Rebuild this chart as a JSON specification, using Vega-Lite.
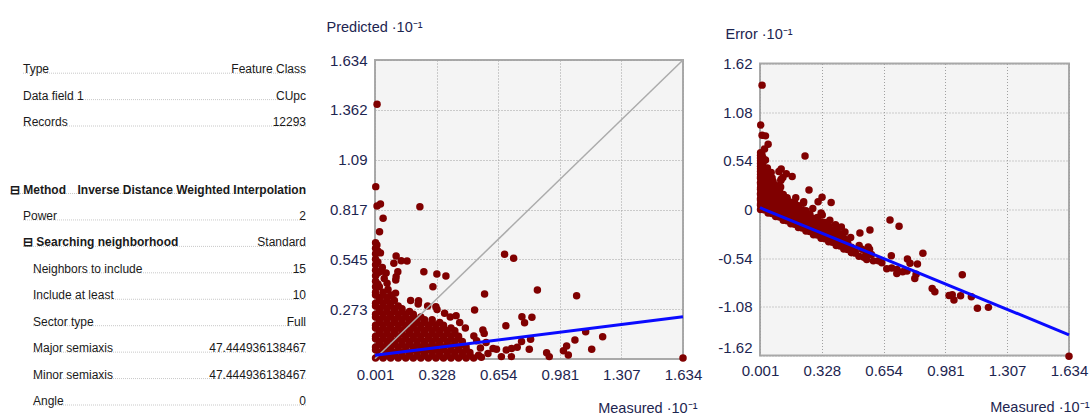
{
  "$schema": "https://vega.github.io/schema/vega-lite/v6.json",
  "padding": {"left": 9, "top": 18, "right": 0, "bottom": 0},
  "bounds": "flush",
  "center": true,
  "spacing": 77,
  "config": {
    "font": "Liberation Sans, Arial, sans-serif",
    "view": {"stroke": null},
    "axis": {
      "labelFontSize": 15, "labelColor": "#1d2550", "titleFontSize": 14.5, "titleFontWeight": "normal", "titleColor": "#1d2550",
      "ticks": false, "domain": false, "grid": true, "gridColor": "#a0a0a0", "gridDash": [1, 2], "gridWidth": 1,
      "labelPadding": 8, "labelFlush": false, "labelOverlap": false, "labelBound": false
    }
  },
  "datasets": {
    "info": [
      {"row": 0, "level": 1, "label": "Type", "value": "Feature Class", "lb": false, "vb": false},
      {"row": 1, "level": 1, "label": "Data field 1", "value": "CUpc", "lb": false, "vb": false},
      {"row": 2, "level": 1, "label": "Records", "value": "12293", "lb": false, "vb": false},
      {"row": 3, "level": 0, "label": "⊟ Method", "value": "Inverse Distance Weighted Interpolation", "lb": true, "vb": true},
      {"row": 4, "level": 1, "label": "Power", "value": "2", "lb": false, "vb": false},
      {"row": 5, "level": 1, "label": "⊟ Searching neighborhood", "value": "Standard", "lb": true, "vb": false},
      {"row": 6, "level": 2, "label": "Neighbors to include", "value": "15", "lb": false, "vb": false},
      {"row": 7, "level": 2, "label": "Include at least", "value": "10", "lb": false, "vb": false},
      {"row": 8, "level": 2, "label": "Sector type", "value": "Full", "lb": false, "vb": false},
      {"row": 9, "level": 2, "label": "Major semiaxis", "value": "47.444936138467", "lb": false, "vb": false},
      {"row": 10, "level": 2, "label": "Minor semiaxis", "value": "47.444936138467", "lb": false, "vb": false},
      {"row": 11, "level": 2, "label": "Angle", "value": "0", "lb": false, "vb": false}
    ],
    "diag": [{"m": 0.001, "p": 0.001}, {"m": 1.634, "p": 1.634}],
    "fit1": [{"m": 0.001, "p": 0.02}, {"m": 1.634, "p": 0.231}],
    "fit2": [{"m": 0.001, "e": 0.02}, {"m": 1.634, "e": -1.39}],
    "pts": [
      {"m":0.004,"p":0.005,"e":0.001},{"m":0.044,"p":0.005,"e":-0.039},{"m":0.084,"p":0.005,"e":-0.079},{"m":0.124,"p":0.005,"e":-0.119},{"m":0.164,"p":0.005,"e":-0.159},{"m":0.204,"p":0.005,"e":-0.199},{"m":0.244,"p":0.005,"e":-0.239},{"m":0.284,"p":0.005,"e":-0.279},{"m":0.324,"p":0.005,"e":-0.319},{"m":0.364,"p":0.005,"e":-0.359},{"m":0.404,"p":0.005,"e":-0.399},{"m":0.444,"p":0.005,"e":-0.439},{"m":0.484,"p":0.005,"e":-0.479},{"m":0.524,"p":0.005,"e":-0.519},
      {"m":0.024,"p":0.02,"e":-0.004},{"m":0.064,"p":0.02,"e":-0.044},{"m":0.104,"p":0.02,"e":-0.084},{"m":0.144,"p":0.02,"e":-0.124},{"m":0.184,"p":0.02,"e":-0.164},{"m":0.224,"p":0.02,"e":-0.204},{"m":0.264,"p":0.02,"e":-0.244},{"m":0.304,"p":0.02,"e":-0.284},{"m":0.344,"p":0.02,"e":-0.324},{"m":0.384,"p":0.02,"e":-0.364},{"m":0.424,"p":0.02,"e":-0.404},{"m":0.464,"p":0.02,"e":-0.444},{"m":0.504,"p":0.02,"e":-0.484},
      {"m":0.024,"p":0.035,"e":0.011},{"m":0.064,"p":0.035,"e":-0.029},{"m":0.104,"p":0.035,"e":-0.069},{"m":0.144,"p":0.035,"e":-0.109},{"m":0.184,"p":0.035,"e":-0.149},{"m":0.224,"p":0.035,"e":-0.189},{"m":0.264,"p":0.035,"e":-0.229},{"m":0.304,"p":0.035,"e":-0.269},{"m":0.344,"p":0.035,"e":-0.309},{"m":0.384,"p":0.035,"e":-0.349},{"m":0.424,"p":0.035,"e":-0.389},{"m":0.464,"p":0.035,"e":-0.429},{"m":0.504,"p":0.035,"e":-0.469},
      {"m":0.004,"p":0.05,"e":0.046},{"m":0.044,"p":0.05,"e":0.006},{"m":0.084,"p":0.05,"e":-0.034},{"m":0.124,"p":0.05,"e":-0.074},{"m":0.164,"p":0.05,"e":-0.114},{"m":0.204,"p":0.05,"e":-0.154},{"m":0.244,"p":0.05,"e":-0.194},{"m":0.284,"p":0.05,"e":-0.234},{"m":0.324,"p":0.05,"e":-0.274},{"m":0.364,"p":0.05,"e":-0.314},{"m":0.404,"p":0.05,"e":-0.354},{"m":0.444,"p":0.05,"e":-0.394},{"m":0.484,"p":0.05,"e":-0.434},
      {"m":0.004,"p":0.065,"e":0.061},{"m":0.044,"p":0.065,"e":0.021},{"m":0.084,"p":0.065,"e":-0.019},{"m":0.124,"p":0.065,"e":-0.059},{"m":0.164,"p":0.065,"e":-0.099},{"m":0.204,"p":0.065,"e":-0.139},{"m":0.244,"p":0.065,"e":-0.179},{"m":0.284,"p":0.065,"e":-0.219},{"m":0.324,"p":0.065,"e":-0.259},{"m":0.364,"p":0.065,"e":-0.299},{"m":0.404,"p":0.065,"e":-0.339},{"m":0.444,"p":0.065,"e":-0.379},{"m":0.484,"p":0.065,"e":-0.419},
      {"m":0.024,"p":0.08,"e":0.056},{"m":0.064,"p":0.08,"e":0.016},{"m":0.104,"p":0.08,"e":-0.024},{"m":0.144,"p":0.08,"e":-0.064},{"m":0.184,"p":0.08,"e":-0.104},{"m":0.224,"p":0.08,"e":-0.144},{"m":0.264,"p":0.08,"e":-0.184},{"m":0.304,"p":0.08,"e":-0.224},{"m":0.344,"p":0.08,"e":-0.264},{"m":0.384,"p":0.08,"e":-0.304},{"m":0.424,"p":0.08,"e":-0.344},{"m":0.464,"p":0.08,"e":-0.384},
      {"m":0.024,"p":0.095,"e":0.071},{"m":0.064,"p":0.095,"e":0.031},{"m":0.104,"p":0.095,"e":-0.009},{"m":0.144,"p":0.095,"e":-0.049},{"m":0.184,"p":0.095,"e":-0.089},{"m":0.224,"p":0.095,"e":-0.129},{"m":0.264,"p":0.095,"e":-0.169},{"m":0.304,"p":0.095,"e":-0.209},{"m":0.344,"p":0.095,"e":-0.249},{"m":0.384,"p":0.095,"e":-0.289},{"m":0.424,"p":0.095,"e":-0.329},{"m":0.464,"p":0.095,"e":-0.369},
      {"m":0.004,"p":0.11,"e":0.106},{"m":0.044,"p":0.11,"e":0.066},{"m":0.084,"p":0.11,"e":0.026},{"m":0.124,"p":0.11,"e":-0.014},{"m":0.164,"p":0.11,"e":-0.054},{"m":0.204,"p":0.11,"e":-0.094},{"m":0.244,"p":0.11,"e":-0.134},{"m":0.284,"p":0.11,"e":-0.174},{"m":0.324,"p":0.11,"e":-0.214},{"m":0.364,"p":0.11,"e":-0.254},{"m":0.404,"p":0.11,"e":-0.294},{"m":0.444,"p":0.11,"e":-0.334},
      {"m":0.004,"p":0.125,"e":0.121},{"m":0.044,"p":0.125,"e":0.081},{"m":0.084,"p":0.125,"e":0.041},{"m":0.124,"p":0.125,"e":0.001},{"m":0.164,"p":0.125,"e":-0.039},{"m":0.204,"p":0.125,"e":-0.079},{"m":0.244,"p":0.125,"e":-0.119},{"m":0.284,"p":0.125,"e":-0.159},{"m":0.324,"p":0.125,"e":-0.199},{"m":0.364,"p":0.125,"e":-0.239},{"m":0.404,"p":0.125,"e":-0.279},{"m":0.444,"p":0.125,"e":-0.319},
      {"m":0.024,"p":0.14,"e":0.116},{"m":0.064,"p":0.14,"e":0.076},{"m":0.104,"p":0.14,"e":0.036},{"m":0.144,"p":0.14,"e":-0.004},{"m":0.184,"p":0.14,"e":-0.044},{"m":0.224,"p":0.14,"e":-0.084},{"m":0.264,"p":0.14,"e":-0.124},{"m":0.304,"p":0.14,"e":-0.164},{"m":0.344,"p":0.14,"e":-0.204},{"m":0.384,"p":0.14,"e":-0.244},{"m":0.424,"p":0.14,"e":-0.284},
      {"m":0.024,"p":0.155,"e":0.131},{"m":0.064,"p":0.155,"e":0.091},{"m":0.104,"p":0.155,"e":0.051},{"m":0.144,"p":0.155,"e":0.011},{"m":0.184,"p":0.155,"e":-0.029},{"m":0.224,"p":0.155,"e":-0.069},{"m":0.264,"p":0.155,"e":-0.109},{"m":0.304,"p":0.155,"e":-0.149},{"m":0.344,"p":0.155,"e":-0.189},{"m":0.384,"p":0.155,"e":-0.229},{"m":0.424,"p":0.155,"e":-0.269},
      {"m":0.004,"p":0.17,"e":0.166},{"m":0.044,"p":0.17,"e":0.126},{"m":0.084,"p":0.17,"e":0.086},{"m":0.124,"p":0.17,"e":0.046},{"m":0.164,"p":0.17,"e":0.006},{"m":0.204,"p":0.17,"e":-0.034},{"m":0.244,"p":0.17,"e":-0.074},{"m":0.284,"p":0.17,"e":-0.114},{"m":0.324,"p":0.17,"e":-0.154},{"m":0.364,"p":0.17,"e":-0.194},{"m":0.404,"p":0.17,"e":-0.234},
      {"m":0.004,"p":0.185,"e":0.181},{"m":0.044,"p":0.185,"e":0.141},{"m":0.084,"p":0.185,"e":0.101},{"m":0.124,"p":0.185,"e":0.061},{"m":0.164,"p":0.185,"e":0.021},{"m":0.204,"p":0.185,"e":-0.019},{"m":0.244,"p":0.185,"e":-0.059},{"m":0.284,"p":0.185,"e":-0.099},{"m":0.324,"p":0.185,"e":-0.139},{"m":0.364,"p":0.185,"e":-0.179},
      {"m":0.024,"p":0.2,"e":0.176},{"m":0.064,"p":0.2,"e":0.136},{"m":0.104,"p":0.2,"e":0.096},{"m":0.144,"p":0.2,"e":0.056},{"m":0.184,"p":0.2,"e":0.016},{"m":0.224,"p":0.2,"e":-0.024},{"m":0.264,"p":0.2,"e":-0.064},{"m":0.304,"p":0.2,"e":-0.104},{"m":0.344,"p":0.2,"e":-0.144},
      {"m":0.024,"p":0.215,"e":0.191},{"m":0.064,"p":0.215,"e":0.151},{"m":0.104,"p":0.215,"e":0.111},{"m":0.144,"p":0.215,"e":0.071},{"m":0.184,"p":0.215,"e":0.031},{"m":0.224,"p":0.215,"e":-0.009},{"m":0.264,"p":0.215,"e":-0.049},{"m":0.304,"p":0.215,"e":-0.089},
      {"m":0.004,"p":0.23,"e":0.226},{"m":0.044,"p":0.23,"e":0.186},{"m":0.084,"p":0.23,"e":0.146},{"m":0.124,"p":0.23,"e":0.106},{"m":0.164,"p":0.23,"e":0.066},{"m":0.204,"p":0.23,"e":0.026},{"m":0.244,"p":0.23,"e":-0.014},
      {"m":0.004,"p":0.245,"e":0.241},{"m":0.044,"p":0.245,"e":0.201},{"m":0.084,"p":0.245,"e":0.161},{"m":0.124,"p":0.245,"e":0.121},{"m":0.164,"p":0.245,"e":0.081},{"m":0.204,"p":0.245,"e":0.041},
      {"m":0.024,"p":0.26,"e":0.236},{"m":0.064,"p":0.26,"e":0.196},{"m":0.104,"p":0.26,"e":0.156},{"m":0.144,"p":0.26,"e":0.116},{"m":0.184,"p":0.26,"e":0.076},
      {"m":0.024,"p":0.275,"e":0.251},{"m":0.064,"p":0.275,"e":0.211},{"m":0.104,"p":0.275,"e":0.171},{"m":0.144,"p":0.275,"e":0.131},
      {"m":0.004,"p":0.29,"e":0.286},{"m":0.044,"p":0.29,"e":0.246},{"m":0.084,"p":0.29,"e":0.206},{"m":0.124,"p":0.29,"e":0.166},
      {"m":0.004,"p":0.305,"e":0.301},{"m":0.044,"p":0.305,"e":0.261},{"m":0.084,"p":0.305,"e":0.221},
      {"m":0.024,"p":0.32,"e":0.296},{"m":0.064,"p":0.32,"e":0.256},{"m":0.104,"p":0.32,"e":0.216},
      {"m":0.024,"p":0.335,"e":0.311},{"m":0.064,"p":0.335,"e":0.271},
      {"m":0.004,"p":0.35,"e":0.346},{"m":0.044,"p":0.35,"e":0.306},{"m":0.084,"p":0.35,"e":0.266},
      {"m":0.004,"p":0.365,"e":0.361},{"m":0.044,"p":0.365,"e":0.321},
      {"m":0.024,"p":0.395,"e":0.371},
      {"m":0.004,"p":0.395,"e":0.391},{"m":0.004,"p":0.425,"e":0.421},{"m":0.004,"p":0.455,"e":0.451},{"m":0.004,"p":0.485,"e":0.481},{"m":0.004,"p":0.515,"e":0.511},{"m":0.004,"p":0.545,"e":0.541},{"m":0.004,"p":0.575,"e":0.571},{"m":0.004,"p":0.605,"e":0.601},{"m":0.004,"p":0.635,"e":0.631},
      {"m":0.016,"p":0.41,"e":0.394},{"m":0.016,"p":0.47,"e":0.454},{"m":0.016,"p":0.53,"e":0.514},{"m":0.016,"p":0.59,"e":0.574},
      {"m":0.23,"p":0.30,"e":0.07},{"m":0.28,"p":0.29,"e":0.01},{"m":0.33,"p":0.27,"e":-0.06},{"m":0.37,"p":0.25,"e":-0.12},{"m":0.40,"p":0.23,"e":-0.17},{"m":0.45,"p":0.20,"e":-0.25},{"m":0.48,"p":0.17,"e":-0.31},{"m":0.19,"p":0.32,"e":0.13},{"m":0.324,"p":0.286,"e":-0.038},
      {"m":0.07,"p":0.38,"e":0.31},{"m":0.11,"p":0.36,"e":0.25},{"m":0.05,"p":0.44,"e":0.39},{"m":0.035,"p":0.48,"e":0.445},{"m":0.03,"p":0.58,"e":0.55},{"m":0.04,"p":0.5,"e":0.46},{"m":0.06,"p":0.47,"e":0.41},
      {"m":0.55,"p":0.02,"e":-0.53},{"m":0.56,"p":0.06,"e":-0.5},{"m":0.6,"p":0.03,"e":-0.57},{"m":0.54,"p":0.1,"e":-0.44},{"m":0.59,"p":0.09,"e":-0.5},{"m":0.565,"p":0.01,"e":-0.555},{"m":0.58,"p":0.14,"e":-0.44},
      {"m":0.012,"p":1.392,"e":1.38},{"m":0.005,"p":0.942,"e":0.937},{"m":0.012,"p":0.836,"e":0.824},{"m":0.03,"p":0.847,"e":0.817},{"m":0.239,"p":0.832,"e":0.593},{"m":0.044,"p":0.769,"e":0.725},{"m":0.025,"p":0.696,"e":0.671},{"m":0.011,"p":0.623,"e":0.612},
      {"m":0.113,"p":0.563,"e":0.45},{"m":0.101,"p":0.523,"e":0.422},{"m":0.14,"p":0.537,"e":0.397},{"m":0.171,"p":0.536,"e":0.365},{"m":0.688,"p":0.572,"e":-0.116},{"m":0.736,"p":0.55,"e":-0.186},
      {"m":0.122,"p":0.477,"e":0.355},{"m":0.113,"p":0.45,"e":0.337},{"m":0.111,"p":0.432,"e":0.321},{"m":0.26,"p":0.477,"e":0.217},{"m":0.329,"p":0.465,"e":0.136},{"m":0.377,"p":0.454,"e":0.077},{"m":0.308,"p":0.395,"e":0.087},{"m":0.065,"p":0.414,"e":0.349},
      {"m":0.582,"p":0.355,"e":-0.227},{"m":0.232,"p":0.319,"e":0.087},{"m":0.09,"p":0.344,"e":0.254},{"m":0.529,"p":0.268,"e":-0.261},{"m":0.431,"p":0.237,"e":-0.194},{"m":0.573,"p":0.158,"e":-0.415},{"m":0.695,"p":0.182,"e":-0.513},{"m":0.525,"p":0.126,"e":-0.399},
      {"m":0.78,"p":0.231,"e":-0.549},{"m":0.794,"p":0.198,"e":-0.596},{"m":0.833,"p":0.228,"e":-0.605},{"m":0.862,"p":0.377,"e":-0.485},{"m":1.07,"p":0.346,"e":-0.724},
      {"m":1.118,"p":0.149,"e":-0.969},{"m":1.208,"p":0.122,"e":-1.086},{"m":1.061,"p":0.104,"e":-0.957},{"m":1.017,"p":0.071,"e":-0.946},{"m":1.026,"p":0.022,"e":-1.004},{"m":1.0,"p":0.045,"e":-0.955},{"m":1.15,"p":0.053,"e":-1.097},
      {"m":0.911,"p":0.034,"e":-0.877},{"m":0.925,"p":0.013,"e":-0.912},{"m":0.819,"p":0.053,"e":-0.766},{"m":0.826,"p":0.108,"e":-0.718},{"m":0.778,"p":0.095,"e":-0.683},{"m":0.755,"p":0.064,"e":-0.691},{"m":0.724,"p":0.013,"e":-0.711},{"m":0.725,"p":0.058,"e":-0.667},
      {"m":0.697,"p":0.049,"e":-0.648},{"m":0.671,"p":0.013,"e":-0.658},{"m":0.645,"p":0.053,"e":-0.592},{"m":0.627,"p":0.058,"e":-0.569},{"m":1.634,"p":0.005,"e":-1.629}
    ]
  },
  "hconcat": [
    {
      "width": 288,
      "height": 299,
      "view": {"stroke": null, "fill": null},
      "data": {"name": "info"},
      "layer": [
        {
          "mark": {"type": "rule", "color": "#c8c8c8", "strokeWidth": 1, "strokeDash": [1, 1]},
          "encoding": {
            "x": {"field": "level", "type": "quantitative", "scale": {"domain": [0, 1, 2, 3], "range": [0, 13, 23, 296], "zero": false, "nice": false}, "axis": null},
            "x2": {"datum": 3},
            "y": {"field": "row", "type": "quantitative", "scale": {"domain": [0, 2, 3, 11], "range": [13.2, 66, 133.5, 345], "zero": false, "nice": false}, "axis": null}
          }
        },
        {
          "transform": [{"filter": "!datum.lb"}],
          "mark": {"type": "text", "align": "left", "baseline": "alphabetic", "fontSize": 12, "color": "#1a1a1a"},
          "encoding": {"x": {"field": "level", "type": "quantitative"}, "y": {"field": "row", "type": "quantitative"}, "text": {"field": "label"}}
        },
        {
          "transform": [{"filter": "datum.lb"}],
          "mark": {"type": "text", "align": "left", "baseline": "alphabetic", "fontSize": 12, "fontWeight": "bold", "color": "#1a1a1a"},
          "encoding": {"x": {"field": "level", "type": "quantitative"}, "y": {"field": "row", "type": "quantitative"}, "text": {"field": "label"}}
        },
        {
          "transform": [{"filter": "!datum.vb"}],
          "mark": {"type": "text", "align": "right", "baseline": "alphabetic", "fontSize": 12, "color": "#1a1a1a"},
          "encoding": {"x": {"datum": 3, "type": "quantitative"}, "y": {"field": "row", "type": "quantitative"}, "text": {"field": "value"}}
        },
        {
          "transform": [{"filter": "datum.vb"}],
          "mark": {"type": "text", "align": "right", "baseline": "alphabetic", "fontSize": 12, "fontWeight": "bold", "color": "#1a1a1a"},
          "encoding": {"x": {"datum": 3, "type": "quantitative"}, "y": {"field": "row", "type": "quantitative"}, "text": {"field": "value"}}
        }
      ]
    },
    {
      "width": 308,
      "height": 299,
      "view": {"fill": "#f4f4f4", "stroke": "#a9a9a9", "strokeWidth": 2},
      "encoding": {
        "x": {"field": "m", "type": "quantitative", "scale": {"domain": [0.001, 1.634], "zero": false, "nice": false},
              "axis": {"values": [0.001, 0.328, 0.654, 0.981, 1.307, 1.634], "labelExpr": "'' + datum.value", "labelBaseline": "top",
                       "title": "Measured ·10⁻¹", "titleAnchor": "end", "titleAlign": "right", "titleBaseline": "alphabetic", "titleX": 322, "titleY": 53}},
        "y": {"field": "p", "type": "quantitative", "scale": {"domain": [0, 1.634], "zero": false, "nice": false},
              "axis": {"values": [0.273, 0.545, 0.817, 1.09, 1.362, 1.634], "labelExpr": "'' + datum.value",
                       "title": "Predicted ·10⁻¹", "titleAngle": 0, "titleAlign": "left", "titleBaseline": "alphabetic", "titleX": -49, "titleY": -29}}
      },
      "layer": [
        {"data": {"name": "pts"}, "mark": {"type": "circle", "size": 56, "color": "#800000", "opacity": 1}},
        {"data": {"name": "diag"}, "mark": {"type": "line", "color": "#ababab", "strokeWidth": 1.5}, "encoding": {}},
        {"data": {"name": "fit1"}, "mark": {"type": "line", "color": "#0a0aff", "strokeWidth": 3}, "encoding": {}}
      ]
    },
    {
      "width": 309,
      "height": 292,
      "view": {"fill": "#f4f4f4", "stroke": "#a9a9a9", "strokeWidth": 2},
      "encoding": {
        "x": {"field": "m", "type": "quantitative", "scale": {"domain": [0.001, 1.634], "zero": false, "nice": false},
              "axis": {"values": [0.001, 0.328, 0.654, 0.981, 1.307, 1.634], "labelExpr": "'' + datum.value", "labelBaseline": "top",
                       "title": "Measured ·10⁻¹", "titleAnchor": "end", "titleAlign": "right", "titleBaseline": "alphabetic", "titleX": 329, "titleY": 56}},
        "y": {"field": "e", "type": "quantitative", "scale": {"domain": [-1.62, 1.62], "zero": false, "nice": false},
              "axis": {"values": [-1.62, -1.08, -0.54, 0, 0.54, 1.08, 1.62], "labelExpr": "'' + datum.value",
                       "labelBaseline": {"condition": {"test": "datum.value < -1.6", "value": "bottom"}, "value": "middle"},
                       "title": "Error ·10⁻¹", "titleAngle": 0, "titleAlign": "left", "titleBaseline": "alphabetic", "titleX": -35, "titleY": -25}}
      },
      "layer": [
        {"data": {"name": "pts"}, "mark": {"type": "circle", "size": 56, "color": "#800000", "opacity": 1}},
        {"data": {"name": "fit2"}, "mark": {"type": "line", "color": "#0a0aff", "strokeWidth": 3}, "encoding": {}}
      ]
    }
  ]
}
